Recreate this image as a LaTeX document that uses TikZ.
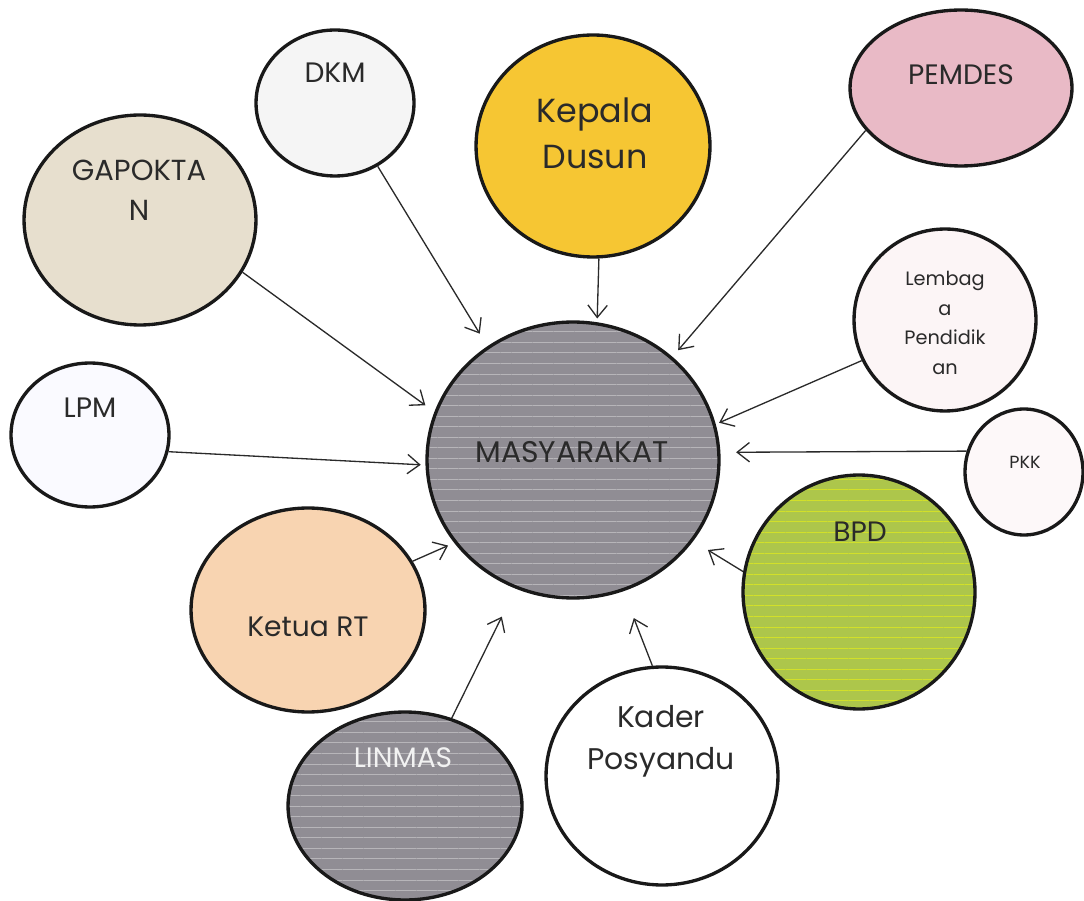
\documentclass[tikz,border=0pt]{standalone}
\usepackage{fontspec}
\setmainfont{Poppins}
\usepackage{tikz}
\usetikzlibrary{arrows.meta,shapes.geometric,patterns.meta}

\definecolor{kepala}{HTML}{F6C633}
\definecolor{pemdes}{HTML}{E9BAC6}
\definecolor{gapok}{HTML}{E7DFCE}
\definecolor{ketua}{HTML}{F8D4B1}
\definecolor{bpd}{HTML}{ADC64B}
\definecolor{abu}{HTML}{908D94}
\definecolor{tinta}{HTML}{2A2A2A}

\begin{document}
\begin{tikzpicture}[x=.02cm,y=-.02cm,font=\fontsize{16}{19}\selectfont,>={Straight Barb[length=7pt,width=11pt]},
  bub/.style={ellipse,draw=black!90,line width=1.9pt,inner sep=0pt},
  lurik/.style 2 args={preaction={fill=#1},pattern={Lines[angle=0,distance=6pt,line width=.45pt]},pattern color=#2},
  arr/.style={->,line width=.75pt,draw=tinta}]
\useasboundingbox (0,0) rectangle (1084,901);
% lingkaran
\node[bub,lurik={abu}{white!35!abu},minimum width=5.84cm,minimum height=5.52cm] (masy) at (573,460) {};
\node[bub,fill=black!4,minimum width=3.16cm,minimum height=2.92cm] (dkm) at (335,103) {};
\node[bub,fill=gapok,minimum width=4.64cm,minimum height=4.2cm] (gap) at (140,220) {};
\node[bub,fill=blue!2,minimum width=3.16cm,minimum height=2.88cm] (lpm) at (90,435) {};
\node[bub,fill=kepala,minimum width=4.68cm,minimum height=4.44cm] (kepala) at (593,146) {};
\node[bub,fill=pemdes,minimum width=4.44cm,minimum height=3.12cm] (pemdes) at (961,88) {};
\node[bub,fill=pemdes!15,minimum width=3.64cm,minimum height=3.64cm] (lembaga) at (945,320) {};
\node[bub,fill=pemdes!10,minimum width=2.36cm,minimum height=2.52cm] (pkk) at (1024,472) {};
\node[bub,fill=ketua,minimum width=4.68cm,minimum height=4.08cm] (ketua) at (308,610) {};
\node[bub,lurik={bpd}{yellow!45!bpd},minimum width=4.64cm,minimum height=4.68cm] (bpd) at (859,592) {};
\node[bub,lurik={abu}{white!35!abu},minimum width=4.68cm,minimum height=3.76cm] (linmas) at (405,806) {};
\node[bub,fill=white,minimum width=4.64cm,minimum height=4.36cm] (kader) at (662,776) {};
% tulisan
\node[text=tinta,font=\fontsize{17}{20}\selectfont] (tmasy) at (572,452) {MASYARAKAT};
\node[text=tinta] (tdkm) at (335,73) {DKM};
\node[text=tinta,align=center,font=\fontsize{16.5}{23}\selectfont] (tgap) at (139,190) {GAPOKTA\\N};
\node[text=tinta] (tlpm) at (90,408) {LPM};
\node[text=tinta,align=center,font=\fontsize{19}{26}\selectfont] (tkepala) at (595,133) {Kepala\\Dusun};
\node[text=tinta] (tpemdes) at (961,75) {PEMDES};
\node[text=tinta,align=center,font=\fontsize{11}{17}\selectfont] (tlembaga) at (945,323) {Lembag\\a\\Pendidik\\an};
\node[text=tinta,font=\fontsize{10}{12}\selectfont] (tpkk) at (1025,462) {PKK};
\node[text=tinta] (tketua) at (308,627) {Ketua RT};
\node[text=tinta] (tbpd) at (860,532) {BPD};
\node[text=white!95!black] (tlinmas) at (403,758) {LINMAS};
\node[text=tinta,align=center,font=\fontsize{17}{24}\selectfont] (tkader) at (661,741) {Kader\\Posyandu};
% panah
\draw[arr,shorten >=.32cm] (dkm.-56) -- (masy.127);
\draw[arr,shorten >=.25cm] (gap.-27) -- (masy.161);
\draw[arr,shorten >=.12cm] (lpm.-12) -- (masy.182);
\draw[arr,shorten >=.16cm] (ketua.25) -- (masy.215);
\draw[arr,shorten >=.65cm] (linmas.62) -- (masy.246);
\draw[arr,shorten >=.6cm] (kader.95) -- (masy.-69);
\draw[arr,shorten >=.37cm] (bpd.170) -- (masy.-34);
\draw[arr,shorten >=.34cm] (pkk.160) -- (masy.3);
\draw[arr,shorten >=.1cm] (lembaga.206) -- (masy.14);
\draw[arr,shorten >=.2cm] (pemdes.204) -- (masy.46);
\draw[arr,shorten >=.1cm] (kepala.-87) -- (masy.80);
\end{tikzpicture}
\end{document}
